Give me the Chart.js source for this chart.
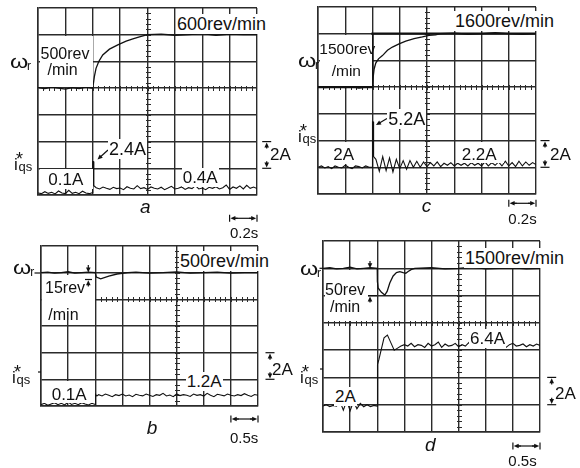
<!DOCTYPE html>
<html>
<head>
<meta charset="utf-8">
<title>Speed and torque-current step responses</title>
<script src="https://cdn.jsdelivr.net/npm/chart.js@4.4.0/dist/chart.umd.min.js"></script>
<style>
    html, body { margin: 0; padding: 0; background: #fff; }
    #fig {
        position: relative; width: 580px; height: 468px; overflow: hidden;
        font-family: "Liberation Sans", Arial, Helvetica, sans-serif; color: #111;
    }
    #fig canvas { position: absolute; z-index: 1; }
    .mask { position: absolute; background: #fff; z-index: 2; }
    #marks { position: absolute; left: 0; top: 0; z-index: 3; }
    .lbl { position: absolute; z-index: 4; line-height: 1; white-space: nowrap; }
    .bg { background: #fff; padding: 1px 1px; }
</style>
</head>
<body>
<div id="fig"></div>
<script>
// ---- data (time in s, current in A, speed in rev/min) ----

// 0.2 s/div panels (a, c)
const timeFast = [0, 0.025, 0.05, 0.075, 0.1, 0.125, 0.15, 0.175, 0.2, 0.225, 0.25, 0.275, 0.3, 0.325, 0.35, 0.375, 0.4,
    0.4, 0.404, 0.408,
    0.425, 0.45, 0.475, 0.5, 0.525, 0.55, 0.575, 0.6, 0.625, 0.65, 0.675, 0.7, 0.725, 0.75, 0.775, 0.8,
    0.825, 0.85, 0.875, 0.9, 0.925, 0.95, 0.975, 1.0, 1.025, 1.05, 1.075, 1.1, 1.125, 1.15, 1.175, 1.2,
    1.225, 1.25, 1.275, 1.3, 1.325, 1.35, 1.375, 1.4, 1.425, 1.45, 1.475, 1.5, 1.525, 1.55, 1.575, 1.6];

// 0.5 s/div panels (b, d)
const timeSlow = [0, 0.0625, 0.125, 0.1875, 0.25, 0.3125, 0.375, 0.4375, 0.5, 0.5625, 0.625, 0.6875, 0.75, 0.8125, 0.875, 0.9375, 1.0,
    1.0, 1.01, 1.03,
    1.0625, 1.125, 1.1875, 1.25, 1.3125, 1.375, 1.4375, 1.5, 1.5625, 1.625, 1.6875, 1.75, 1.8125, 1.875, 1.9375, 2.0,
    2.0625, 2.125, 2.1875, 2.25, 2.3125, 2.375, 2.4375, 2.5, 2.5625, 2.625, 2.6875, 2.75, 2.8125, 2.875, 2.9375, 3.0,
    3.0625, 3.125, 3.1875, 3.25, 3.3125, 3.375, 3.4375, 3.5, 3.5625, 3.625, 3.6875, 3.75, 3.8125, 3.875, 3.9375, 4.0];

// i*qs traces
const currentA = [0.15, 0.1, 0.25, 0.12, 0.2, 0.08, 0.3, 0.15, 0.1, 0.35, 0.12, 0.2, 0.1, 0.28, 0.15, 0.1, 0.18,
    2.5, 2.5, 0.7,
    0.55, 0.45, 0.6, 0.5, 0.42, 0.58, 0.48, 0.52, 0.4, 0.62, 0.5, 0.45, 0.7, 0.48, 0.55, 0.42,
    0.6, 0.5, 0.45, 0.58, 0.4, 0.52, 0.65, 0.45, 0.5, 0.6, 0.42, 0.55, 0.48, 0.7, 0.45, 0.52,
    0.4, 0.58, 0.5, 0.62, 0.45, 0.55, 0.75, 0.42, 0.6, 0.5, 0.68, 0.45, 0.72, 0.5, 0.6, 0.48];

const currentC = [2.0, 2.1, 1.95, 2.05, 1.9, 2.1, 2.0, 1.95, 2.15, 2.0, 1.9, 2.1, 2.05, 1.95, 2.1, 2.0, 2.0,
    5.4, 5.4, 2.8,
    2.6, 1.7, 2.8, 1.75, 2.7, 1.65, 2.6, 1.9, 2.5, 1.85, 2.5, 2.0, 2.45, 2.0, 2.4, 2.05,
    2.35, 2.1, 2.4, 2.05, 2.3, 2.15, 2.35, 2.1, 2.3, 2.15, 2.3, 2.1, 2.35, 2.15, 2.3, 2.1,
    2.4, 2.1, 2.35, 2.15, 2.4, 2.1, 2.45, 2.1, 2.35, 2.05, 2.45, 2.1, 2.4, 2.15, 2.35, 2.2];

const currentB = [0.1, 0.2, 0.05, 0.15, 0.25, 0.1, 0.2, 0.08, 0.3, 0.12, 0.2, 0.1, 0.25, 0.15, 0.08, 0.2, 0.12,
    0.8, 0.88, 0.75,
    0.85, 0.75, 0.9, 0.8, 0.7, 0.85, 0.78, 0.9, 0.75, 0.82, 0.7, 0.88, 0.8, 0.76, 0.9, 0.8,
    0.72, 0.85, 0.8, 0.95, 0.75, 0.82, 0.7, 0.9, 0.78, 0.85, 0.8, 0.72, 0.9, 0.8, 0.85, 0.75,
    0.95, 0.8, 0.7, 0.88, 0.82, 0.76, 0.9, 0.8, 0.75, 0.85, 0.78, 0.92, 0.8, 0.72, 0.86, 0.8];

const currentD = [1.9, 2.0, 1.85, 1.95, 1.9, 2.25, 1.6, 2.3, 1.55, 2.25, 1.7, 2.1, 1.85, 2.0, 1.85, 1.95, 1.9,
    4.78, 4.95, 5.3,
    5.85, 6.9, 7.1, 6.55, 6.0, 6.15, 6.3, 6.4, 6.3, 6.5, 6.25, 6.4, 6.35, 6.2, 6.5, 6.3,
    6.4, 6.6, 6.2, 6.45, 6.3, 6.35, 6.5, 6.25, 6.4, 6.3, 6.55, 6.2, 6.4, 6.35, 6.3, 6.5,
    6.25, 6.4, 6.3, 6.45, 6.35, 6.2, 6.4, 6.5, 6.3, 6.35, 6.45, 6.25, 6.4, 6.3, 6.45, 6.35];

// omega_r traces
const speedTimeA = [0, 0.05, 0.1, 0.15, 0.2, 0.25, 0.3, 0.35, 0.4, 0.412, 0.424, 0.444, 0.473, 0.522, 0.583, 0.644, 0.693, 0.741, 0.8,
    0.9, 1.0, 1.1, 1.2, 1.3, 1.4, 1.5, 1.6];
const speedA = [501, 499, 502, 500, 498, 501, 499, 502, 500, 522, 537, 550, 562, 573, 581, 588, 592, 596, 600,
    601, 599, 600, 602, 599, 601, 600, 600];

const speedTimeC = [0, 0.05, 0.1, 0.15, 0.2, 0.25, 0.3, 0.35, 0.4,
    0.405, 0.412, 0.424, 0.444, 0.473, 0.51, 0.546, 0.595, 0.644, 0.705, 0.766, 0.815, 0.863,
    0.9, 1.0, 1.1, 1.2, 1.3, 1.4, 1.5, 1.6];
const speedC = [1501, 1499, 1500, 1502, 1499, 1501, 1498, 1500, 1500,
    1519, 1534, 1545, 1553, 1559, 1569, 1575, 1581, 1586, 1591, 1594, 1597, 1598,
    1600, 1601, 1599, 1600, 1602, 1600, 1599, 1600];
const refTimeC = [0, 0.4, 0.4, 1.6];
const refSpeedC = [1500, 1500, 1600, 1600];

const speedTimeB = [0, 0.125, 0.25, 0.375, 0.5, 0.625, 0.75, 0.875, 1.0, 1.02, 1.1, 1.25, 1.4, 1.6,
    1.75, 2.0, 2.25, 2.5, 2.75, 3.0, 3.25, 3.5, 3.75, 4.0];
const speedB = [500, 501, 499, 500, 502, 499, 500, 501, 500, 490, 486, 492, 497, 500,
    501, 499, 500, 502, 499, 500, 501, 499, 500, 500];

const speedTimeD = [0, 0.125, 0.25, 0.375, 0.5, 0.625, 0.75, 0.875, 1.0,
    1.003, 1.016, 1.077, 1.139, 1.182, 1.231, 1.293, 1.354, 1.416, 1.477, 1.526, 1.569, 1.631, 1.692,
    2.0, 2.25, 2.5, 2.75, 3.0, 3.25, 3.5, 3.75, 4.0];
const speedD = [1500, 1501, 1499, 1500, 1502, 1499, 1500, 1501, 1500,
    1476, 1464, 1456, 1451, 1457.5, 1473, 1486, 1492, 1494, 1492, 1491, 1494, 1498, 1500,
    1501, 1499, 1500, 1502, 1499, 1500, 1501, 1499, 1500];

// ---- drawing ----
const fig = document.getElementById('fig');
const INK = '#111';
const GRID = '#2b2b2b';

function pts(xs, ys) {
    return xs.map((t, i) => ({ x: t, y: ys[i] }));
}

// minor tick marks along the scope crosshair
const crossTicks = {
    id: 'crossTicks',
    beforeDatasetsDraw(chart, args, opts) {
        const { ctx, chartArea: ca, scales } = chart;
        const px = Math.round(scales.x.getPixelForValue(opts.xAt)) + 0.5;
        const py = Math.round(scales.yI.getPixelForValue(opts.yAt)) + 0.5;
        const nx = opts.xDivs * 5, ny = opts.yDivs * 5;
        ctx.save();
        ctx.strokeStyle = GRID;
        ctx.lineWidth = 1;
        ctx.beginPath();
        for (let i = 1; i < nx; i++) {
            const xx = Math.round(ca.left + (ca.right - ca.left) * i / nx) + 0.5;
            ctx.moveTo(xx, py - 2.5); ctx.lineTo(xx, py + 2.5);
        }
        for (let j = 1; j < ny; j++) {
            const yy = Math.round(ca.top + (ca.bottom - ca.top) * j / ny) + 0.5;
            ctx.moveTo(px - 2.5, yy); ctx.lineTo(px + 2.5, yy);
        }
        ctx.stroke();
        ctx.restore();
    }
};

function makePanel(box, p) {
    const cv = document.createElement('canvas');
    cv.width = box.w + 4;
    cv.height = box.h + 4;
    cv.style.left = (box.x - 2) + 'px';
    cv.style.top = (box.y - 2) + 'px';
    fig.appendChild(cv);

    const gridOpts = { color: GRID, lineWidth: 1.4, drawTicks: false };
    const datasets = [
        { data: pts(p.t, p.cur), yAxisID: 'yI', borderColor: INK, borderWidth: 1.1 },
        { data: pts(p.wt, p.w), yAxisID: 'yW', borderColor: INK, borderWidth: 1.3 }
    ];
    if (p.ref) {
        datasets.push({ data: pts(p.ref[0], p.ref[1]), yAxisID: 'yW', borderColor: INK, borderWidth: 2.2 });
    }

    new Chart(cv, {
        type: 'line',
        data: { datasets: datasets },
        options: {
            responsive: false,
            animation: false,
            devicePixelRatio: 1,
            layout: { padding: 2 },
            elements: { point: { radius: 0 }, line: { tension: 0 } },
            plugins: {
                legend: { display: false },
                tooltip: { enabled: false },
                crossTicks: { xAt: p.cross[0], yAt: p.cross[1], xDivs: 8, yDivs: p.divs }
            },
            scales: {
                x: {
                    type: 'linear', min: 0, max: p.tMax,
                    ticks: { display: false, stepSize: p.tMax / 8 },
                    grid: gridOpts,
                    border: { color: GRID, width: 1.5 }
                },
                yI: {
                    type: 'linear', position: 'left', min: 0, max: p.divs * 2,
                    ticks: { display: false, stepSize: 2 },
                    grid: gridOpts,
                    border: { color: GRID, width: 1.5 }
                },
                yW: {
                    type: 'linear', display: false, min: p.wMin, max: p.wMax
                }
            }
        },
        plugins: [crossTicks]
    });
}

makePanel({ x: 38, y: 8, w: 219, h: 187 },
    { t: timeFast, cur: currentA, wt: speedTimeA, w: speedA, tMax: 1.6, divs: 7, wMin: 300, wMax: 650, cross: [0.8, 8] });
makePanel({ x: 318, y: 7, w: 218, h: 187 },
    { t: timeFast, cur: currentC, wt: speedTimeC, w: speedC, tMax: 1.6, divs: 7, wMin: 1300, wMax: 1650, cross: [0.8, 8],
      ref: [refTimeC, refSpeedC] });
makePanel({ x: 41, y: 246, w: 217, h: 160 },
    { t: timeSlow, cur: currentB, wt: speedTimeB, w: speedB, tMax: 4, divs: 6, wMin: 200, wMax: 560, cross: [2.5, 8] });
makePanel({ x: 323, y: 241, w: 217, h: 191 },
    { t: timeSlow, cur: currentD, wt: speedTimeD, w: speedD, tMax: 4, divs: 7, wMin: 1200, wMax: 1550, cross: [2.5, 8] });

// white boxes behind the in-grid labels
[[39.5, 35.8, 53, 51.2], [39.5, 169.3, 53, 19.5],
 [319.5, 34.8, 52.5, 51.2], [320, 141.5, 51, 22], [456, 141.5, 48, 21],
 [42, 274.5, 52.5, 45], [42, 380.7, 52.5, 22],
 [324.5, 269.8, 43.5, 51.5]].forEach(r => {
    const m = document.createElement('div');
    m.className = 'mask';
    m.style.left = r[0] + 'px'; m.style.top = r[1] + 'px';
    m.style.width = r[2] + 'px'; m.style.height = r[3] + 'px';
    fig.appendChild(m);
});

// arrows and scale markers
const NS = 'http://www.w3.org/2000/svg';
const svg = document.createElementNS(NS, 'svg');
svg.setAttribute('id', 'marks');
svg.setAttribute('width', 580);
svg.setAttribute('height', 468);
fig.appendChild(svg);

function line(x1, y1, x2, y2, w) {
    const l = document.createElementNS(NS, 'line');
    l.setAttribute('x1', x1); l.setAttribute('y1', y1);
    l.setAttribute('x2', x2); l.setAttribute('y2', y2);
    l.setAttribute('stroke', INK); l.setAttribute('stroke-width', w || 1.2);
    svg.appendChild(l);
}
function arrow(x1, y1, x2, y2) {
    const a = Math.atan2(y2 - y1, x2 - x1), L = 5, W = 2.3;
    const c = Math.cos(a), s = Math.sin(a);
    line(x1, y1, x2 - c * 3, y2 - s * 3);
    const head = document.createElementNS(NS, 'polygon');
    head.setAttribute('points', [
        [x2, y2],
        [x2 - L * c + W * s, y2 - L * s - W * c],
        [x2 - L * c - W * s, y2 - L * s + W * c]
    ].map(q => q.join(',')).join(' '));
    head.setAttribute('fill', INK);
    svg.appendChild(head);
}
function vScale(x, y1, y2) {
    line(x - 4.5, y1, x + 4.5, y1);
    line(x - 4.5, y2, x + 4.5, y2);
    arrow(x, y1 + 7, x, y1 + 0.8);
    arrow(x, y2 - 7, x, y2 - 0.8);
}
function hScale(x1, x2, y) {
    line(x1, y - 3.5, x1, y + 3.5);
    line(x2, y - 3.5, x2, y + 3.5);
    line(x1 + 4, y, x2 - 4, y);
    arrow(x1 + 8, y, x1 + 0.8, y);
    arrow(x2 - 8, y, x2 - 0.8, y);
}

// panel a
arrow(108, 150, 97.5, 159.5);
vScale(266.7, 141.6, 168.3);
hScale(229.6, 257, 218.3);
// panel c
arrow(387, 118.5, 376, 125);
vScale(545, 140.6, 167.3);
hScale(508.8, 536, 203.3);
// panel b
arrow(88.3, 265, 88.3, 272.5);
line(85, 279.5, 92, 279.5);
arrow(88.3, 286.5, 88.3, 280.3);
vScale(270, 352.7, 379.3);
hScale(230.9, 258, 419);
line(34.5, 273, 40, 273);
line(38, 372, 41, 372);
// panel d
arrow(370, 261, 370, 268.3);
line(368, 295.6, 377, 295.6);
arrow(370, 302.5, 370, 296.4);
vScale(551.7, 377.4, 404.7);
hScale(512.9, 540, 446);
line(319.5, 268.3, 323, 268.3);
line(320, 369, 323, 369);

// text
function addLabel(html, x, base, size, opts) {
    opts = opts || {};
    const d = document.createElement('div');
    d.className = 'lbl' + (opts.bg ? ' bg' : '');
    d.innerHTML = html;
    const pad = opts.bg ? 1 : 0;
    d.style.fontSize = size + 'px';
    d.style.left = (x - pad) + 'px';
    d.style.top = (base - 0.8465 * size - pad) + 'px';
    if (opts.italic) d.style.fontStyle = 'italic';
    if (opts.sx) { d.style.transform = 'scaleX(' + opts.sx + ')'; d.style.transformOrigin = 'left'; }
    fig.appendChild(d);
}
function omegaLabel(x, base) {
    addLabel('\u03c9', x, base, 18, { sx: 1.3 });
    addLabel('r', x + 17, base + 2.5, 12);
}
function iqsLabel(x, base) {
    addLabel('i', x, base, 17);
    addLabel('*', x + 2, base - 4.5, 18);
    addLabel('qs', x + 4.5, base + 1.5, 13);
}

// panel a
addLabel('600rev/min', 177, 30, 18, { bg: true });
addLabel('500rev', 40.5, 59.5, 16);
addLabel('/min', 47.5, 76, 16);
addLabel('2.4A', 109, 155.7, 18, { bg: true });
addLabel('0.1A', 48.3, 185.7, 17);
addLabel('0.4A', 182.7, 183.3, 17, { bg: true });
addLabel('2A', 270, 160, 17);
addLabel('a', 140, 213.3, 19, { italic: true });
addLabel('0.2s', 230, 237.3, 15);
omegaLabel(10, 68);
iqsLabel(14, 170);

// panel c
addLabel('1600rev/min', 455, 27.3, 18, { bg: true });
addLabel('1500rev', 319.3, 54.3, 15.5);
addLabel('/min', 331.7, 76, 15.5);
addLabel('5.2A', 388.3, 125, 18, { bg: true });
addLabel('2A', 333.3, 160, 17);
addLabel('2.2A', 461.7, 160, 17);
addLabel('2A', 550, 160, 17);
addLabel('c', 421.7, 211.7, 19, { italic: true });
addLabel('0.2s', 508.3, 224, 15);
omegaLabel(298, 67);
iqsLabel(298, 142);

// panel b
addLabel('500rev/min', 180, 267.3, 18, { bg: true });
addLabel('15rev', 45, 293.3, 16);
addLabel('/min', 48.3, 321, 16);
addLabel('0.1A', 51.7, 400.7, 17);
addLabel('1.2A', 186.7, 387.3, 17, { bg: true });
addLabel('2A', 272, 375.7, 17);
addLabel('b', 146.7, 434, 19, { italic: true });
addLabel('0.5s', 230, 442.3, 15);
omegaLabel(13.3, 274);
iqsLabel(12, 383);

// panel d
addLabel('1500rev/min', 465, 264, 18, { bg: true });
addLabel('50rev', 325, 295.3, 16);
addLabel('/min', 330, 312.7, 16);
addLabel('6.4A', 470, 344, 17, { bg: true });
addLabel('2A', 335, 402.3, 17, { bg: true });
addLabel('2A', 555, 399, 17);
addLabel('d', 425, 450.7, 19, { italic: true });
addLabel('0.5s', 508.3, 466, 15);
omegaLabel(300, 275);
iqsLabel(300, 383);
</script>
</body>
</html>
